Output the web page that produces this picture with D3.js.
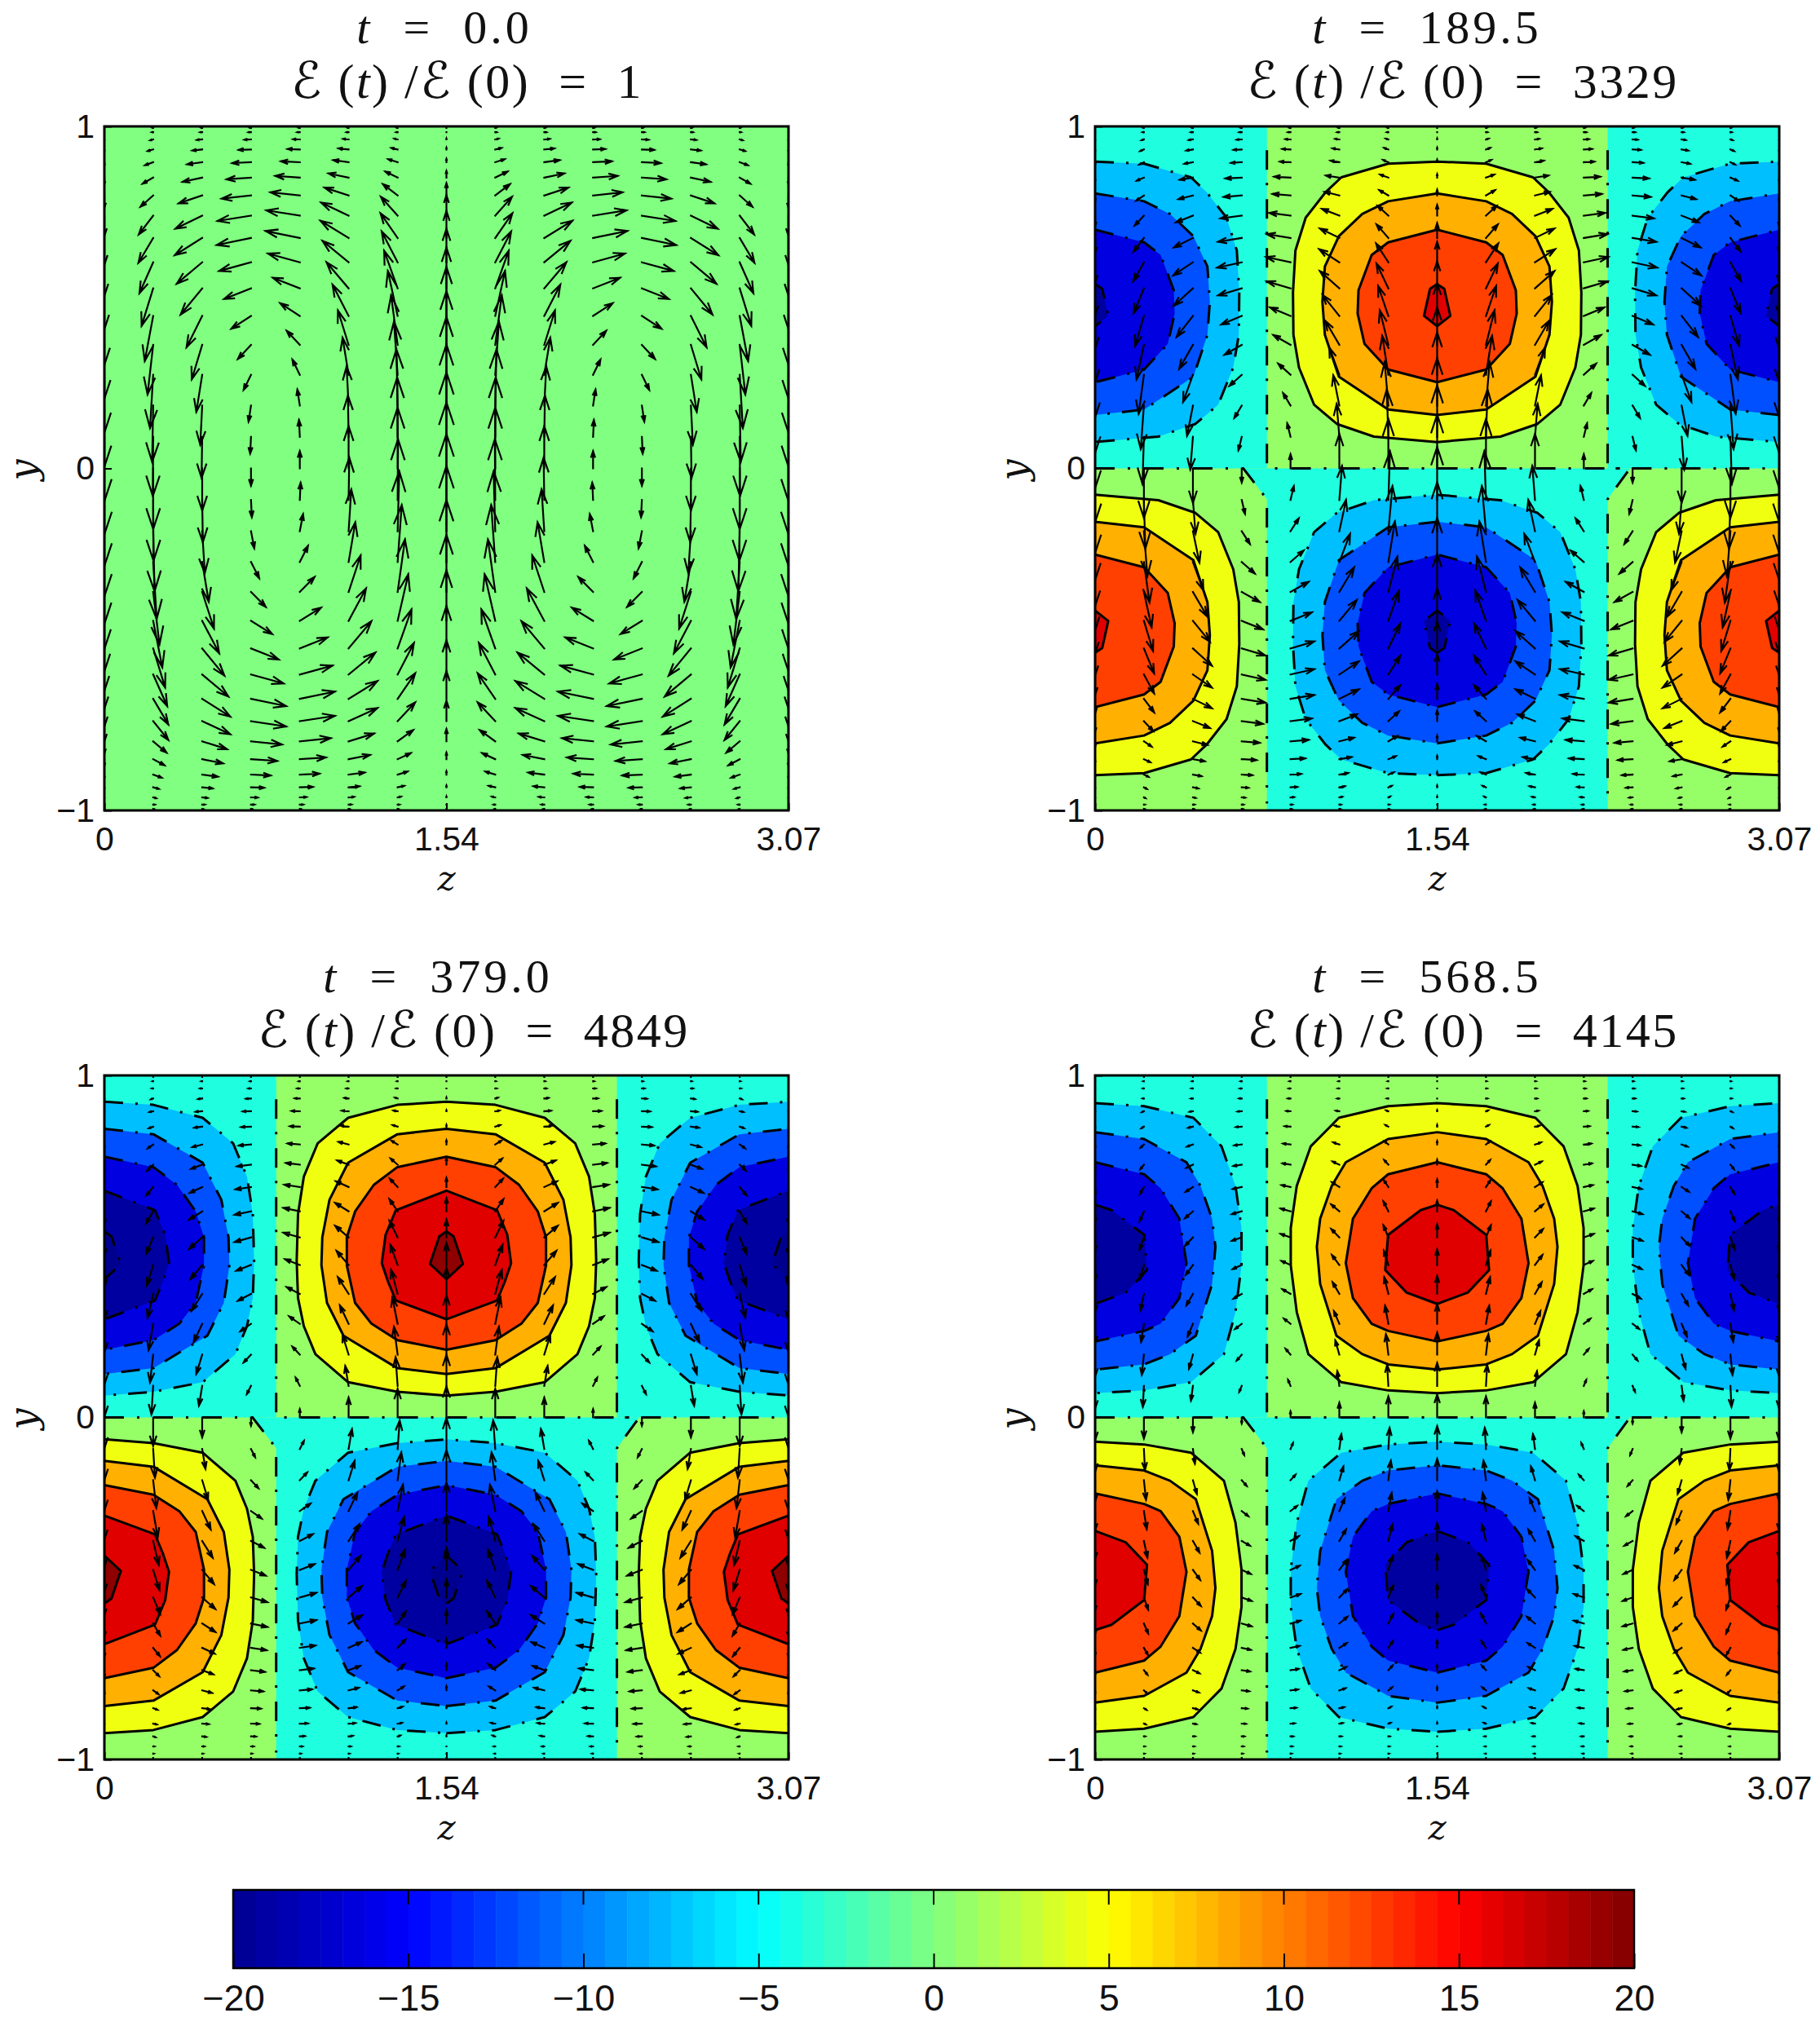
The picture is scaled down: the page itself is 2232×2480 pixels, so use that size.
<!DOCTYPE html>
<html>
<head>
<meta charset="utf-8">
<script src="https://cdn.jsdelivr.net/npm/d3@7"></script>
<style>
  html, body { margin: 0; background: #fff; }
  text { fill: #111; }
</style>
</head>
<body>
<svg id="chart" width="2232" height="2480"></svg>
<script>
// tick labels
const zTicks = [0, 1.535, 3.07];
const zTickLabels = ["0", "1.54", "3.07"];
const yTicks = [-1, 0, 1];
const yTickLabels = ["\u22121", "0", "1"];
const barTicks = [-20, -15, -10, -5, 0, 5, 10, 15, 20];
const barTickLabels = ["\u221220", "\u221215", "\u221210", "\u22125", "0", "5", "10", "15", "20"];

// panel titles
const times = ["0.0", "189.5", "379.0", "568.5"];
const growth = ["1", "3329", "4849", "4145"];

// quiver grid
const zGrid = [0, 0.219, 0.439, 0.658, 0.877, 1.096, 1.316, 1.535, 1.754, 1.974, 2.193, 2.412, 2.632, 2.851, 3.07];
const yGrid = [1, 0.9957, 0.983, 0.9618, 0.9325, 0.8952, 0.8502, 0.798, 0.739, 0.6737, 0.6026, 0.5264, 0.4457, 0.3612, 0.2737, 0.1837, 0.0923, 0,
  -0.0923, -0.1837, -0.2737, -0.3612, -0.4457, -0.5264, -0.6026, -0.6737, -0.739, -0.798, -0.8502, -0.8952, -0.9325, -0.9618, -0.983, -0.9957, -1];

// column weights, by column distance from the centre line
const vByColumn = [1, 0.92, 0.64, 0.26, -0.26, -0.64, -0.92, -1];
const wByColumn = [0, 0.5, 0.82, 1, 1, 0.8, 0.43, 0];

// row amplitudes per panel, one value per entry of yGrid
const vRows0 = [0,0,0,1,2,4,8,15,25,33,41,50,60,66,71,75,79,81,81,80,76,70,62,52,42,34,25,15,8,4,2,1,0,0,0];
const wRows0 = [0,1,3,8,15,23,30,36,41,42,39,33,24,16,9,3,1,0,-1,-4,-10,-18,-26,-34,-40,-43,-43,-38,-32,-24,-16,-8,-4,-1,0];
const vRows1 = [0,0,0,1,2,3,4,7,13,18,25,33,40,46,52,58,63,66,65,60,54,47,40,33,25,18,13,7,4,3,2,1,0,0,0];
const wRows1 = [0,1,3,6,10,13,20,22,26,29,30,29,25,21,15,9,4,0,-4,-10,-16,-22,-26,-29,-29,-29,-26,-22,-18,-13,-8,-4,-2,-1,0];
const vRows2 = [0,0,0,0,1,1,2,5,8,11,16,22,27,32,35,37,38,38,38,37,35,32,27,22,16,11,8,5,2,1,1,0,0,0,0];
const wRows2 = [0,0,1,3,6,10,12,15,17,19,20,20,18,16,13,9,5,0,-5,-9,-13,-16,-18,-20,-20,-19,-17,-15,-12,-10,-6,-3,-1,0,0];
const vRows3 = [0,0,0,0,0,1,2,4,6,9,13,16,19,22,24,27,28,28,28,26,24,22,19,16,13,9,6,4,2,1,0,0,0,0,0];
const wRows3 = [0,0,1,2,3,5,7,9,10,11,12,12,11,10,8,6,3,0,-3,-6,-8,-10,-11,-12,-12,-11,-10,-9,-7,-5,-3,-2,-1,0,0];

// contour outlines of one lobe, right half only: [z offset from lobe centre, y]
const lobes1 = [
  [[0,.897],[.22,.891],[.43,.851],[.5,.808],[.59,.733],[.636,.637],[.647,.514],[.645,.391],[.62,.295],[.552,.186],[.45,.13],[.284,.093],[0,.077]],
  [[0,.804],[.22,.781],[.336,.744],[.441,.679],[.504,.59],[.515,.487],[.504,.391],[.441,.268],[.22,.172],[0,.156]],
  [[0,.698],[.22,.661],[.294,.624],[.353,.521],[.357,.453],[.326,.364],[.22,.289],[0,.252]],
  [[0,.539],[.032,.525],[.059,.446],[0,.416]]
];
const lobes2 = [
  [[0,.923],[.22,.914],[.441,.876],[.504,.842],[.578,.801],[.64,.704],[.666,.595],[.672,.458],[.666,.349],[.64,.267],[.588,.185],[.441,.103],[.22,.075],[0,.064]],
  [[0,.844],[.22,.828],[.441,.745],[.525,.636],[.557,.527],[.561,.445],[.536,.335],[.462,.239],[.22,.144],[0,.127]],
  [[0,.762],[.22,.732],[.326,.68],[.41,.602],[.447,.527],[.447,.445],[.41,.335],[.336,.274],[.22,.226],[0,.198]],
  [[0,.663],[.227,.606],[.273,.534],[.29,.451],[.262,.397],[.227,.342],[0,.287]],
  [[0,.544],[.032,.529],[.074,.449],[0,.404]]
];
const lobes3 = [
  [[0,.919],[.22,.91],[.441,.876],[.494,.841],[.567,.793],[.63,.677],[.657,.554],[.657,.445],[.63,.308],[.578,.185],[.43,.103],[.22,.079],[0,.071]],
  [[0,.834],[.22,.814],[.41,.746],[.473,.677],[.525,.581],[.54,.499],[.525,.39],[.452,.239],[.336,.185],[.22,.155],[0,.14]],
  [[0,.746],[.22,.711],[.294,.67],[.378,.581],[.41,.451],[.378,.349],[.294,.274],[.22,.253],[0,.222]],
  [[0,.622],[.074,.606],[.22,.534],[.233,.431],[.137,.365],[0,.332]]
];

// sign change regions and zero contour, the same in the three later panels
const cyanRegions = [
  [[0,1],[.771,1],[.771,0],[0,0]],
  [[2.3,1],[3.07,1],[3.07,0],[2.3,0]],
  [[.665,0],[2.4,0],[2.3,-.09],[2.3,-1],[.771,-1],[.771,-.09]]
];
const zeroLines = [
  [[0,0],[.665,0],[.771,-.09],[.771,-.98]],
  [[.771,.93],[.771,0],[2.4,0],[2.3,-.09],[2.3,-.98]],
  [[2.3,.93],[2.3,0],[3.07,0]]
];

const panels = [
  { left: 128, top: 155, t: 0, titleA: 545, titleB: 573, lobes: null, v: vRows0, w: wRows0 },
  { left: 1343, top: 155, t: 1, titleA: 1750, titleB: 1794, lobes: lobes1, v: vRows1, w: wRows1 },
  { left: 128, top: 1319, t: 2, titleA: 537, titleB: 581, lobes: lobes2, v: vRows2, w: wRows2 },
  { left: 1343, top: 1319, t: 3, titleA: 1750, titleB: 1794, lobes: lobes3, v: vRows3, w: wRows3 }
];

const panelW = 839, panelH = 839;
const sans = "'Liberation Sans', Arial, sans-serif";
const serif = "'Liberation Serif', serif";
const mathSerif = "'DejaVu Serif', serif";

const posColors = ["#f0ff10", "#ffb000", "#ff4000", "#e00000", "#8f0000"];
const negColors = ["#00bfff", "#0050ff", "#0000e0", "#0000a0", "#00008f"];

const svg = d3.select("#chart");

// arrow scale: table values are given in screen pixels of arrow length
const speed = d3.scaleLinear().domain([0, 1]).range([0, 1]);

function fullOutline(half) {
  const mirrored = half.slice(1, -1).reverse().map(p => [-p[0], p[1]]);
  return half.concat(mirrored);
}

panels.forEach((panel, index) => {
  const g = svg.append("g").attr("transform", `translate(${panel.left},${panel.top})`);

  const x = d3.scaleLinear().domain([0, 3.07]).range([0, panelW]);
  const y = d3.scaleLinear().domain([-1, 1]).range([panelH, 0]);

  g.append("clipPath").attr("id", `clip${index}`)
    .append("rect").attr("width", panelW).attr("height", panelH);
  const plot = g.append("g").attr("clip-path", `url(#clip${index})`);

  const area = d3.line().x(p => x(p[0])).y(p => y(p[1]));

  if (!panel.lobes) {
    plot.append("rect").attr("width", panelW).attr("height", panelH).attr("fill", "#80ff80");
  } else {
    plot.append("rect").attr("width", panelW).attr("height", panelH).attr("fill", "#96ff68");
    plot.selectAll("path.cyan").data(cyanRegions).join("path")
      .attr("class", "cyan")
      .attr("fill", "#1fffdf")
      .attr("d", d => area(d) + "Z");

    // six lobes: centre and both side edges, above and below y = 0
    const instances = [
      { zc: 1.535, flip: 1, pos: true },
      { zc: 1.535, flip: -1, pos: false },
      { zc: 0, flip: 1, pos: false },
      { zc: 3.07, flip: 1, pos: false },
      { zc: 0, flip: -1, pos: true },
      { zc: 3.07, flip: -1, pos: true }
    ];
    instances.forEach(inst => {
      const line = d3.line()
        .x(p => x(inst.zc + p[0]))
        .y(p => y(inst.flip * p[1]))
        .curve(d3.curveLinearClosed);
      panel.lobes.forEach((half, level) => {
        plot.append("path")
          .attr("d", line(fullOutline(half)))
          .attr("fill", (inst.pos ? posColors : negColors)[level])
          .attr("stroke", "#000")
          .attr("stroke-width", 3)
          .attr("stroke-linejoin", "round")
          .attr("stroke-dasharray", inst.pos ? null : "23 15 3 15");
      });
    });

    plot.selectAll("path.zero").data(zeroLines).join("path")
      .attr("class", "zero")
      .attr("fill", "none")
      .attr("stroke", "#000")
      .attr("stroke-width", 3)
      .attr("stroke-dasharray", "24 16 3 17")
      .attr("d", d => area(d));
  }

  // quiver, tails on the grid
  const arrows = [];
  zGrid.forEach((z, i) => {
    const d = Math.abs(i - 7);
    const side = i < 7 ? -1 : 1;
    yGrid.forEach((yv, j) => {
      arrows.push({
        z, y: yv,
        dx: speed(side * wByColumn[d] * panel.w[j]),
        dy: speed(vByColumn[d] * panel.v[j])
      });
    });
  });

  const arrowPath = a => {
    const x0 = x(a.z), y0 = y(a.y);
    const ux = a.dx, uy = -a.dy;
    const tx = x0 + ux, ty = y0 + uy;
    const al = 0.33, be = 0.33;
    const b1x = tx - al * (ux + be * uy), b1y = ty - al * (uy - be * ux);
    const b2x = tx - al * (ux - be * uy), b2y = ty - al * (uy + be * ux);
    return `M${x0},${y0}L${tx},${ty}M${b1x},${b1y}L${tx},${ty}L${b2x},${b2y}`;
  };

  plot.selectAll("path.arrow").data(arrows).join("path")
    .attr("class", "arrow")
    .attr("fill", "none")
    .attr("stroke", "#000")
    .attr("stroke-width", 2.2)
    .attr("stroke-linecap", "square")
    .attr("d", arrowPath);

  // axes
  const xAxis = d3.axisBottom(x)
    .tickValues(zTicks)
    .tickFormat((d, i) => zTickLabels[i])
    .tickSizeInner(-9).tickSizeOuter(0).tickPadding(20);
  const yAxis = d3.axisLeft(y)
    .tickValues(yTicks)
    .tickFormat((d, i) => yTickLabels[i])
    .tickSizeInner(-9).tickSizeOuter(0).tickPadding(12);

  [g.append("g").attr("transform", `translate(0,${panelH})`).call(xAxis),
   g.append("g").call(yAxis)].forEach(a => {
    a.select(".domain").remove();
    a.selectAll("line").attr("stroke", "#000").attr("stroke-width", 2);
    a.selectAll("text").attr("font-family", sans).attr("font-size", 41).attr("fill", "#111");
  });

  g.append("rect")
    .attr("width", panelW).attr("height", panelH)
    .attr("fill", "none").attr("stroke", "#000").attr("stroke-width", 3);

  g.append("text")
    .attr("x", panelW / 2).attr("y", panelH + 98)
    .attr("text-anchor", "middle")
    .attr("font-family", mathSerif).attr("font-style", "italic").attr("font-size", 42)
    .text("z");
  g.append("text")
    .attr("transform", `translate(-84,${panelH / 2 + 2}) rotate(-90)`)
    .attr("text-anchor", "middle")
    .attr("font-family", mathSerif).attr("font-style", "italic").attr("font-size", 46)
    .text("y");

  // titles
  const line1 = svg.append("text")
    .attr("x", panel.titleA).attr("y", panel.top - 102)
    .attr("text-anchor", "middle")
    .attr("font-family", serif).attr("font-size", 58)
    .attr("letter-spacing", 4).attr("xml:space", "preserve");
  line1.append("tspan").attr("font-style", "italic").text("t");
  line1.append("tspan").text("  =  " + times[panel.t]);

  const line2 = svg.append("text")
    .attr("x", panel.titleB).attr("y", panel.top - 35)
    .attr("text-anchor", "middle")
    .attr("font-family", serif).attr("font-size", 60)
    .attr("letter-spacing", 2.5).attr("xml:space", "preserve");
  line2.append("tspan").attr("font-family", "'DejaVu Sans'").attr("font-style", "italic").attr("font-size", 62).text("\u2130");
  line2.append("tspan").text(" (");
  line2.append("tspan").attr("font-style", "italic").text("t");
  line2.append("tspan").text(") /");
  line2.append("tspan").attr("font-family", "'DejaVu Sans'").attr("font-style", "italic").attr("font-size", 62).text("\u2130");
  line2.append("tspan").text(" (0)  =  " + growth[panel.t]);
});

// colour bar
const barX = d3.scaleLinear().domain([-20, 20]).range([286, 2004]);
const barTop = 2318, barH = 96;
const jet = d3.scaleLinear()
  .domain([-20, -15, -5, 5, 15, 20])
  .range(["#00008f", "#0000ff", "#00ffff", "#ffff00", "#ff0000", "#800000"]);

const cellEdges = d3.range(65).map(i => -20 + i * 40 / 64);
const bar = svg.append("g");
bar.selectAll("rect.cell").data(cellEdges.slice(0, 64)).join("rect")
  .attr("class", "cell")
  .attr("x", d => barX(d))
  .attr("y", barTop)
  .attr("width", barX(40 / 64 - 20) - barX(-20) + 0.5)
  .attr("height", barH)
  .attr("fill", d => jet(d + 20 / 64));

const barAxis = d3.axisBottom(barX)
  .tickValues(barTicks)
  .tickFormat((d, i) => barTickLabels[i])
  .tickSizeInner(-18).tickSizeOuter(0).tickPadding(20);
const barAxisG = bar.append("g").attr("transform", `translate(0,${barTop + barH})`).call(barAxis);
barAxisG.select(".domain").remove();
barAxisG.selectAll("line").attr("stroke", "#000").attr("stroke-width", 2);
barAxisG.selectAll("text").attr("font-family", sans).attr("font-size", 45).attr("fill", "#111");

bar.selectAll("line.top").data(barTicks.slice(1, -1)).join("line")
  .attr("class", "top")
  .attr("x1", d => barX(d)).attr("x2", d => barX(d))
  .attr("y1", barTop).attr("y2", barTop + 18)
  .attr("stroke", "#000").attr("stroke-width", 2);

bar.append("rect")
  .attr("x", barX(-20)).attr("y", barTop)
  .attr("width", barX(20) - barX(-20)).attr("height", barH)
  .attr("fill", "none").attr("stroke", "#000").attr("stroke-width", 2.5);
</script>
</body>
</html>
